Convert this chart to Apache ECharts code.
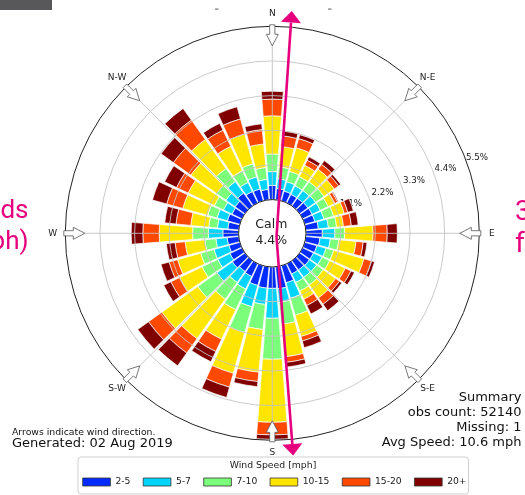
<!DOCTYPE html>
<html><head><meta charset="utf-8">
<script src="https://cdn.jsdelivr.net/npm/echarts@6/dist/echarts.min.js"></script>
<style>html,body{margin:0;padding:0;background:#fff}#c{width:525px;height:495px}</style>
</head><body><div id="c"></div>
<script>
// ---- data ----
const directions = ['0','10','20','30','40','50','60','70','80','90','100','110','120','130','140','150','160','170',
  '180','190','200','210','220','230','240','250','260','270','280','290','300','310','320','330','340','350'];
const speedBins = ['2-5','5-7','7-10','10-15','15-20','20+'];
const s2_5 = [0.45,0.36,0.32,0.30,0.30,0.32,0.33,0.33,0.40,0.52,0.45,0.40,0.38,0.38,0.36,0.36,0.56,0.70,0.68,0.68,0.65,0.45,0.42,0.49,0.42,0.36,0.37,0.50,0.35,0.41,0.35,0.38,0.50,0.40,0.39,0.33];
const s5_7 = [0.44,0.31,0.31,0.30,0.30,0.30,0.29,0.30,0.32,0.40,0.33,0.30,0.30,0.28,0.29,0.30,0.51,0.43,0.95,0.52,0.70,0.44,0.43,0.60,0.43,0.49,0.36,0.46,0.33,0.34,0.30,0.36,0.45,0.32,0.40,0.32];
const s7_10 = [0.56,0.38,0.34,0.32,0.34,0.33,0.28,0.32,0.26,0.31,0.27,0.25,0.27,0.26,0.30,0.30,0.56,0.70,1.30,0.80,0.85,0.73,0.65,0.75,0.55,0.44,0.35,0.50,0.28,0.31,0.32,0.36,0.51,0.41,0.43,0.38];
const s10_15 = [1.21,0.65,0.78,0.40,0.49,0.40,0.23,0.35,0.22,0.90,0.55,1.00,0.55,0.48,0.50,0.29,0.70,1.04,2.00,1.36,1.34,1.04,1.54,1.40,0.79,0.76,0.63,1.06,0.57,0.82,0.92,1.01,1.13,0.86,0.98,0.75];
const s15_20 = [0.53,0.34,0.30,0.18,0.19,0.17,0.10,0.12,0.25,0.45,0.23,0.25,0.20,0.15,0.25,0.22,0.15,0.18,0.40,0.30,0.46,0.43,0.56,0.52,0.31,0.28,0.32,0.52,0.47,0.53,0.41,0.68,0.76,0.57,0.50,0.46];
const s20p = [0.25,0.15,0.13,0.12,0.15,0.08,0.03,0.18,0.22,0.32,0.12,0.10,0.12,0.09,0.25,0.30,0.22,0.15,0.14,0.16,0.34,0.36,0.50,0.42,0.25,0.27,0.28,0.37,0.36,0.47,0.42,0.48,0.45,0.24,0.40,0.18];
const ringTicks = ['1.1%','2.2%','3.3%','4.4%','5.5%'];
const ringValues = [1.1,2.2,3.3,4.4,5.5];
const compassLabels = ['N','N-E','E','S-E','S','S-W','W','N-W'];
const compassAngles = [0,45,90,135,180,225,270,315];
const calmText = ['Calm','4.4%'];
const summaryLines = ['Summary','obs count: 52140','Missing: 1','Avg Speed: 10.6 mph'];

// ---- layout ----
const CX = 272.3, CY = 233.3, R0 = 33.7, R1 = 207, VMAX = 5.5;
const colors = ['#002bff','#00d4ff','#7bff7b','#ffe600','#ff4800','#800000'];
const FONT = "'DejaVu Sans', sans-serif";
const seriesData = [s2_5, s5_7, s7_10, s10_15, s15_20, s20p];

function pt(u, deg, v) {
  const a = deg * Math.PI / 180;
  const s = Math.sin(a), c = Math.cos(a);
  v = v || 0;
  return [CX + u * s + v * c, CY - u * c + v * s];
}
function vr(val) { return R0 + val / VMAX * (R1 - R0); }

const graphics = [];
graphics.push({type:'rect', shape:{x:0,y:0,width:52,height:10}, style:{fill:'#58585a'}, z:1});
graphics.push({type:'rect', shape:{x:215,y:8.5,width:3.5,height:1.2}, style:{fill:'#777'}, z:1});
graphics.push({type:'rect', shape:{x:328,y:8.5,width:3.5,height:1.2}, style:{fill:'#777'}, z:1});
const PINK = '#e6007e';
graphics.push({type:'text', style:{x:28.5,y:211,text:'Winds',font:"26px Roboto, sans-serif",fill:PINK,textAlign:'right',textVerticalAlign:'middle'}, z:1});
graphics.push({type:'text', style:{x:28.5,y:242,text:'(mph)',font:"26px Roboto, sans-serif",fill:PINK,textAlign:'right',textVerticalAlign:'middle'}, z:1});
graphics.push({type:'text', style:{x:515,y:213,text:'3 mph',font:"28px Roboto, sans-serif",fill:PINK,textAlign:'left',textVerticalAlign:'middle'}, z:1});
graphics.push({type:'text', style:{x:515,y:245,text:'from',font:"28px Roboto, sans-serif",fill:PINK,textAlign:'left',textVerticalAlign:'middle'}, z:1});

compassLabels.forEach((lab, i) => {
  const deg = compassAngles[i];
  const p = pt(219.5, deg);
  graphics.push({type:'text', style:{x:p[0],y:p[1],text:lab,font:"9px "+FONT,fill:'#222',textAlign:'center',textVerticalAlign:'middle'}, z:20});
  const shape = [[208.5,-2.6],[199,-2.6],[199,-6],[187.5,0],[199,6],[199,2.6],[208.5,2.6]].map(q => pt(q[0], deg, q[1]));
  graphics.push({type:'polygon', shape:{points:shape}, style:{fill:'#fff', stroke:'#555', lineWidth:0.8}, z:50});
});
ringTicks.forEach((t, i) => {
  const r = vr(ringValues[i]);
  graphics.push({type:'text', style:{x:CX + r*0.91 + 16.4, y:CY - r*0.338 - 6, text:t, font:"8.7px "+FONT, fill:'#222', textAlign:'center', textVerticalAlign:'middle'}, z:1});
});
graphics.push({type:'text', style:{x:CX-1,y:225,text:calmText[0],font:"12.5px "+FONT,fill:'#222',textAlign:'center',textVerticalAlign:'middle'}, z:20});
graphics.push({type:'text', style:{x:CX-1,y:240.5,text:calmText[1],font:"12.5px "+FONT,fill:'#222',textAlign:'center',textVerticalAlign:'middle'}, z:20});
graphics.push({type:'text', style:{x:12,y:432.5,text:'Arrows indicate wind direction.',font:"9.3px "+FONT,fill:'#111',textAlign:'left',textVerticalAlign:'middle'}, z:20});
graphics.push({type:'text', style:{x:12,y:443.5,text:'Generated: 02 Aug 2019',font:"13px "+FONT,fill:'#111',textAlign:'left',textVerticalAlign:'middle'}, z:20});
summaryLines.forEach((t, i) => {
  graphics.push({type:'text', style:{x:521.5,y:398 + i*15,text:t,font:"13px "+FONT,fill:'#111',textAlign:'right',textVerticalAlign:'middle'}, z:20});
});
graphics.push({type:'rect', shape:{x:78,y:457,width:390.5,height:37,r:3}, style:{fill:'#fff', stroke:'#d0d0d0', lineWidth:1}, z:0});
graphics.push({type:'text', style:{x:273,y:466,text:'Wind Speed [mph]',font:"9.3px "+FONT,fill:'#222',textAlign:'center',textVerticalAlign:'middle'}, z:1});

function arrowHead(base, dir, len, half) {
  const n = Math.hypot(dir[0], dir[1]); const d = [dir[0]/n, dir[1]/n]; const p = [-d[1], d[0]];
  return [[base[0]+p[0]*half, base[1]+p[1]*half], [base[0]+d[0]*len, base[1]+d[1]*len], [base[0]-p[0]*half, base[1]-p[1]*half]];
}
const mid = [276.5, 237], topB = [291, 22.5], botB = [292.3, 444];
graphics.push({type:'polyline', shape:{points:[topB, mid, botB]}, style:{stroke:PINK, lineWidth:2.6, fill:null}, z:100});
graphics.push({type:'polygon', shape:{points:arrowHead(topB, [topB[0]-mid[0], topB[1]-mid[1]], 11.5, 10)}, style:{fill:PINK}, z:100});
graphics.push({type:'polygon', shape:{points:arrowHead(botB, [botB[0]-mid[0], botB[1]-mid[1]], 11.5, 10)}, style:{fill:PINK}, z:100});

const series = speedBins.map((name, i) => ({
  type:'bar', name, coordinateSystem:'polar', polarIndex:0, stack:'ws',
  data: seriesData[i], barCategoryGap:'11%',
  itemStyle:{color:colors[i], borderColor:'#fff', borderWidth:0.7},
  emphasis:{disabled:true}, z:2
}));

const chart = echarts.init(document.getElementById('c'), null, {renderer:'canvas'});
chart.setOption({
  animation:false,
  backgroundColor:'#fff',
  polar:[{center:[CX,CY], radius:[R0,R1]},{center:[CX,CY], radius:[R0,R1]}],
  angleAxis:[
    {polarIndex:0, type:'category', data:directions, startAngle:95, clockwise:true,
     axisLine:{show:true, lineStyle:{color:'#222', width:1}}, axisTick:{show:false}, axisLabel:{show:false}, splitLine:{show:false}, z:3},
    {polarIndex:1, type:'value', min:0, max:360, interval:45, startAngle:90, clockwise:true,
     axisLine:{show:false}, axisTick:{show:false}, axisLabel:{show:false},
     splitLine:{show:true, lineStyle:{color:'#c4c4c4', width:0.9}}, z:3}
  ],
  radiusAxis:[
    {polarIndex:0, type:'value', min:0, max:VMAX, axisLine:{show:false}, axisTick:{show:false}, axisLabel:{show:false}, splitLine:{show:false}},
    {polarIndex:1, type:'value', min:0, max:VMAX, interval:1.1, axisLine:{show:false}, axisTick:{show:false}, axisLabel:{show:false},
     splitLine:{show:true, lineStyle:{color:['rgba(0,0,0,0)','#c4c4c4','#c4c4c4','#c4c4c4','#c4c4c4','rgba(0,0,0,0)'], width:0.9}}, z:3}
  ],
  legend:{data:speedBins, left:82.3, top:477.5, padding:0, itemWidth:27.7, itemHeight:8, itemGap:12.4, icon:'rect',
    selectedMode:false, itemStyle:{borderColor:'#333', borderWidth:0.8},
    textStyle:{fontFamily:FONT, fontSize:9.2, color:'#222'}},
  graphic:{elements:graphics},
  series
});
</script></body></html>
